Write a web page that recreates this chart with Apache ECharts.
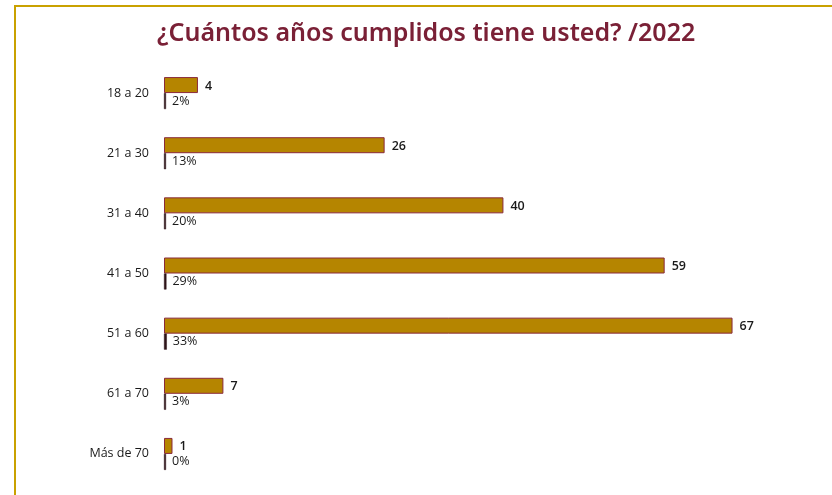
<!DOCTYPE html>
<html><head><meta charset="utf-8">
<script src="https://cdn.jsdelivr.net/npm/echarts@6/dist/echarts.min.js"></script>
<style>html,body{margin:0;padding:0;background:#fff}#c{width:832px;height:495px}</style>
</head><body><div id="c"></div>
<script>
var categories = ['18 a 20','21 a 30','31 a 40','41 a 50','51 a 60','61 a 70','Más de 70'];
var counts = [4, 26, 40, 59, 67, 7, 1];
var shares = [0.02, 0.13, 0.20, 0.29, 0.33, 0.03, 0.00];
var shareLabels = ['2%','13%','20%','29%','33%','3%','0%'];
var titleText = '¿Cuántos años cumplidos tiene usted? /2022';

var chart = echarts.init(document.getElementById('c'), null, {renderer:'canvas'});
var font = '"Open Sans", "Noto Sans", sans-serif';
chart.setOption({
  backgroundColor: '#ffffff',
  animation: false,
  title: {
    text: titleText, left: 152, top: 16,
    textStyle: {color: '#7a2036', fontSize: 25, fontWeight: 600, fontFamily: '"Noto Sans", sans-serif'}
  },
  graphic: [
    {type:'rect', shape:{x:14, y:5, width:830, height:2}, style:{fill:'#c9a100'}},
    {type:'rect', shape:{x:14, y:5, width:2, height:500}, style:{fill:'#c9a100'}}
  ],
  grid: {left: 164, right: 74, top: 63, bottom: 11, containLabel: false},
  xAxis: {type:'value', min:0, max:70, show:false},
  yAxis: {
    type:'category', data: categories, inverse: true,
    axisLine:{show:false}, axisTick:{show:false},
    axisLabel:{color:'#1a1a1a', fontSize:12.5, fontWeight:500, margin:15, fontFamily: font}
  },
  series: [
    {
      type:'bar', data: counts, barWidth: 16, barGap: '0%',
      itemStyle:{color:'#b58500', borderColor:'#8a2a3c', borderWidth:1},
      label:{show:true, position:'right', distance:7, color:'#1a1a1a', fontSize:12.5, fontWeight:600, fontFamily: font, offset:[0,1]}
    },
    {
      type:'bar', data: shares, barWidth: 16, barMinHeight: 2,
      itemStyle:{color:'#2e1419', borderColor:'#2e1419', borderWidth:0.5},
      label:{show:true, position:'right', distance:6, color:'#1a1a1a', fontSize:12.5, fontWeight:500, fontFamily: font,
        formatter: function(p){ return shareLabels[p.dataIndex]; }}
    }
  ]
});
</script></body></html>
